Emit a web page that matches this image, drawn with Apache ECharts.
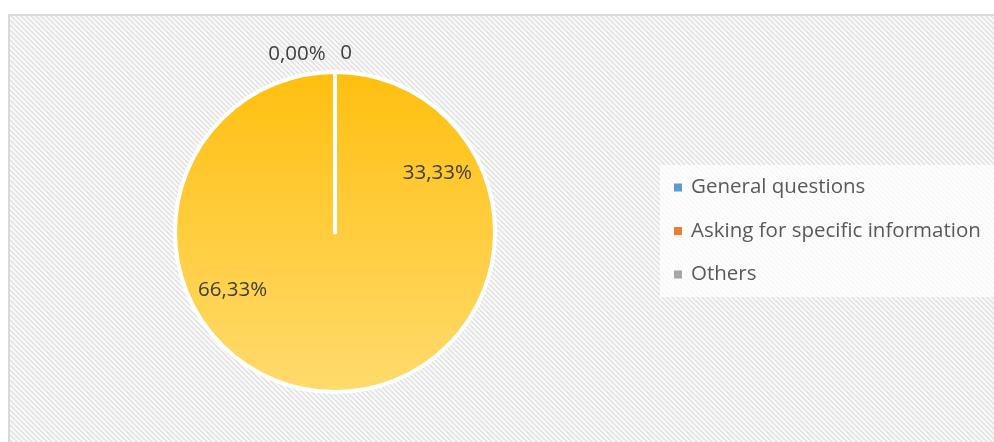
<!DOCTYPE html>
<html><head><meta charset="utf-8">
<script src="https://cdn.jsdelivr.net/npm/echarts@6/dist/echarts.min.js"></script>
<style>html,body{margin:0;padding:0;background:#fff}#c{width:994px;height:442px}</style>
</head><body><div id="c"></div>
<script>
// Data
const legendNames = ['General questions', 'Asking for specific information', 'Others'];
const legendColors = ['#5B9BD5', '#ED7D31', '#A5A5A5'];
const sliceNames = ['Total', 'General questions', 'Asking for specific information', 'Others'];
const sliceValues = [100, 0, 0, 0];
const labelValues = [33.33, 66.33];
const labelTexts = ['33,33%', '66,33%'];
const zeroLabels = ['0,00%', '0'];

function makePattern() {
  const c = document.createElement('canvas');
  c.width = 5; c.height = 5;
  const g = c.getContext('2d');
  g.fillStyle = '#f9f9f9'; g.fillRect(0, 0, 5, 5);
  g.strokeStyle = '#e0e0e0'; g.lineWidth = 1.4;
  g.beginPath();
  for (let k = -5; k <= 10; k += 5) { g.moveTo(k, 0); g.lineTo(k + 5, 5); }
  g.stroke();
  return c;
}

const chart = echarts.init(document.getElementById('c'), null, {renderer: 'canvas'});
const yellow = new echarts.graphic.LinearGradient(0, 0, 0, 1, [
  {offset: 0, color: '#FFBF0F'}, {offset: 1, color: '#FFDB6E'}
]);
const FONT = 'Open Sans';
const FS = 20.5;

chart.setOption({
  animation: false,
  graphic: [
    {type: 'rect', z: -10, shape: {x: 9, y: 15, width: 1000, height: 440},
     style: {fill: {image: makePattern(), repeat: 'repeat'}, stroke: '#d9d9d9', lineWidth: 2}},
    {type: 'text', z: 10, x: 297, y: 54, style: {text: zeroLabels[0], font: FS + 'px "Open Sans"', fill: '#404040', align: 'center', verticalAlign: 'middle'}},
    {type: 'text', z: 10, x: 346, y: 53, style: {text: zeroLabels[1], font: FS + 'px "Open Sans"', fill: '#404040', align: 'center', verticalAlign: 'middle'}}
  ],
  legend: {
    orient: 'vertical',
    left: 660, top: 165,
    data: legendNames,
    itemWidth: 8, itemHeight: 8, itemGap: 22.5,
    icon: 'rect',
    itemStyle: {borderWidth: 0, borderColor: 'transparent'},
    padding: [12, 20, 12, 14],
    backgroundColor: 'rgba(255,255,255,0.75)',
    textStyle: {fontFamily: FONT, fontSize: FS, color: '#595959', lineHeight: 20, padding: [0, 0, 0, 4]},
    selectedMode: false
  },
  series: [
    {
      type: 'pie', center: [335, 232], radius: [0, 160],
      startAngle: 90, clockwise: true,
      label: {show: false}, labelLine: {show: false},
      silent: true,
      itemStyle: {borderColor: '#ffffff', borderWidth: 4},
      data: sliceNames.map((n, i) => ({
        name: n, value: sliceValues[i],
        itemStyle: {color: i === 0 ? yellow : legendColors[i - 1]}
      }))
    },
    {
      type: 'pie', center: [335, 232], radius: [70, 160],
      startAngle: 90, clockwise: true, silent: true,
      itemStyle: {color: 'rgba(0,0,0,0)', borderWidth: 0},
      label: {show: true, position: 'inside', fontFamily: FONT, fontSize: FS, color: '#404040',
        formatter: p => labelTexts[p.dataIndex]},
      labelLine: {show: false},
      data: labelValues.map((v, i) => ({name: 'lbl' + i, value: v}))
    }
  ]
});
</script></body></html>
